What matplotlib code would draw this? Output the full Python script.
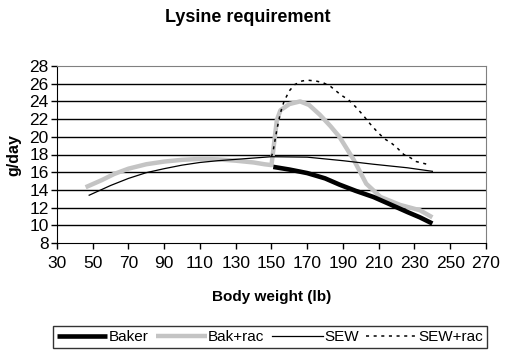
import matplotlib.pyplot as plt
import numpy as np

plt.rcParams['font.family'] = ['Liberation Sans', 'DejaVu Sans']

# data
sew_x = [48, 60, 70, 80, 90, 100, 110, 120, 130, 140, 150, 170, 190, 207, 226, 240]
sew_y = [13.4, 14.5, 15.3, 15.95, 16.4, 16.8, 17.1, 17.3, 17.45, 17.6, 17.75, 17.7, 17.3, 16.9, 16.5, 16.1]

bakrac_x = [46, 55, 62, 70, 80, 90, 100, 110, 120, 130, 140, 146, 150, 151, 153, 155, 160, 166, 171, 177, 183, 188, 196, 203, 211, 222, 233, 240]
bakrac_y = [14.3, 15.1, 15.8, 16.4, 16.9, 17.2, 17.4, 17.5, 17.45, 17.3, 17.1, 16.9, 16.8, 18.5, 21.9, 23.0, 23.7, 24.0, 23.6, 22.5, 21.2, 20.0, 17.4, 14.7, 13.2, 12.3, 11.7, 10.9]

baker_x = [151, 160, 170, 180, 188, 197, 207, 216, 226, 233, 240]
baker_y = [16.6, 16.3, 15.9, 15.3, 14.6, 13.9, 13.2, 12.4, 11.5, 10.9, 10.2]

sewrac_x = [150, 151, 153, 155, 157, 160, 163, 167, 170, 175, 179, 183, 189, 193, 197, 201, 205, 209, 213, 217, 220, 224, 228, 231, 235, 239]
sewrac_y = [17.75, 18.5, 20.8, 22.7, 24.0, 25.2, 25.9, 26.3, 26.4, 26.3, 26.1, 25.7, 24.7, 24.2, 23.4, 22.5, 21.5, 20.6, 19.8, 19.3, 18.8, 18.0, 17.6, 17.2, 17.0, 16.8]

fig = plt.figure(figsize=(5.06, 3.61), dpi=100)
ax = fig.add_axes([57/506, 1-243/361, 429/506, 177/361])

for yv in range(10, 28, 2):
    ax.axhline(yv, color='black', lw=1, zorder=0)

ax.plot(bakrac_x, bakrac_y, color='#c4c4c4', lw=3.2, solid_capstyle='butt', label='Bak+rac')
ax.plot(sew_x, sew_y, color='black', lw=0.9, label='SEW')
ax.plot(baker_x, baker_y, color='black', lw=3.3, solid_capstyle='butt', label='Baker')
ax.plot(sewrac_x, sewrac_y, color='black', lw=1.1, ls=(0, (2, 3)), label='SEW+rac')

ax.set_xlim(30, 270)
ax.set_ylim(8, 28)
ax.set_xticks(np.arange(30, 271, 20))
ax.set_yticks(np.arange(8, 29, 2))
ax.tick_params(direction='out', length=4, width=1, labelsize=12.5, pad=5)
ax.tick_params(axis='y', pad=2)
for s in ['top', 'right']:
    ax.spines[s].set_color('#808080')
for s in ['left', 'bottom']:
    ax.spines[s].set_color('black')

fig.text(248/506, 1-17/361, 'Lysine requirement', ha='center', va='center', fontsize=13, fontweight='bold')
fig.text(272/506, 1-297/361, 'Body weight (lb)', ha='center', va='center', fontsize=11, fontweight='bold')
fig.text(14/506, 1-155/361, 'g/day', ha='center', va='center', rotation=90, fontsize=11.5, fontweight='bold')

handles, labels = ax.get_legend_handles_labels()
order = [2, 0, 1, 3]
leg = fig.legend([handles[i] for i in order], [labels[i] for i in order],
                 loc='center', bbox_to_anchor=(270/506, 1-337/361), ncol=4,
                 frameon=True, fancybox=False, edgecolor='black', fontsize=11,
                 handlelength=3.3, handletextpad=0.1, columnspacing=0.5,
                 borderpad=0.25, borderaxespad=0)
leg.get_frame().set_linewidth(1)

fig.savefig('out.png', dpi=100)
